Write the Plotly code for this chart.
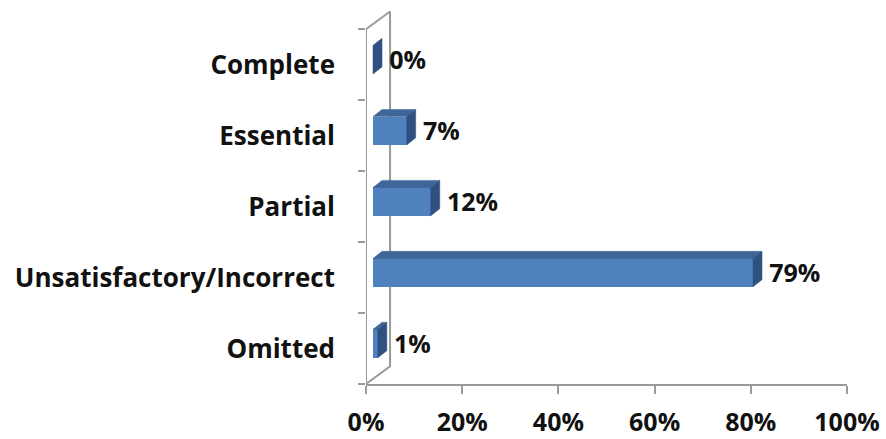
import plotly.graph_objects as go

# Response categories (bottom to top) and their shares in percent
categories = ["Omitted", "Unsatisfactory/Incorrect", "Partial", "Essential", "Complete"]
shares = [1, 79, 12, 7, 0]
x_ticks = [0, 20, 40, 60, 80, 100]

# Pseudo-3D geometry, in axis units
Y_RANGE = [-0.5, 4.8]
WALL_DX, WALL_DY = 5.0, 0.25      # depth of the side wall
FRONT_DX, FRONT_DY = 1.46, 0.07   # bars sit slightly behind the front plane
BAR_DX, BAR_DY = 1.87, 0.10       # bar depth
BAR_H = 0.40                      # bar thickness
LABEL_GAP = 1.5
LABEL_DY = 0.03

FRONT = "#4F81BD"
TOP = "#3E6698"
SIDE = "#2F5080"
GRID = "#9A9A9A"
TEXT = "#111111"
FONT = "Open Sans"

fig = go.Figure()

# Side wall (drawn first so the bars sit in front of it)
n = len(categories)
lo, hi = -0.5, n - 0.5
wall_x = [0, 0, None, 0, WALL_DX, WALL_DX, 0, None]
wall_y = [lo, hi, None, hi, hi + WALL_DY, lo + WALL_DY, lo, None]
fig.add_trace(go.Scatter(x=wall_x, y=wall_y, mode="lines",
                         line=dict(color=GRID, width=2), hoverinfo="skip",
                         showlegend=False, xaxis="x", yaxis="y"))

# Front faces of the bars on the category axis
fig.add_trace(go.Bar(y=categories, x=shares, base=FRONT_DX, orientation="h",
                     width=BAR_H, offset=-BAR_H / 2 + FRONT_DY,
                     marker=dict(color=FRONT, line=dict(width=0)),
                     showlegend=False, xaxis="x", yaxis="y2"))

# Top and side faces
for i, v in enumerate(shares):
    x0 = FRONT_DX
    x1 = FRONT_DX + v
    yb = i + FRONT_DY - BAR_H / 2
    yt = i + FRONT_DY + BAR_H / 2
    fig.add_trace(go.Scatter(
        x=[x0, x1, x1 + BAR_DX, x0 + BAR_DX, x0],
        y=[yt, yt, yt + BAR_DY, yt + BAR_DY, yt],
        fill="toself", fillcolor=TOP, mode="lines", line=dict(width=0.5, color=TOP),
        hoverinfo="skip", showlegend=False, xaxis="x", yaxis="y3"))
    fig.add_trace(go.Scatter(
        x=[x1, x1 + BAR_DX, x1 + BAR_DX, x1, x1],
        y=[yb, yb + BAR_DY, yt + BAR_DY, yt, yb],
        fill="toself", fillcolor=SIDE, mode="lines", line=dict(width=0.5, color=SIDE),
        hoverinfo="skip", showlegend=False, xaxis="x", yaxis="y3"))

# Value labels to the right of each bar
fig.add_trace(go.Scatter(
    x=[FRONT_DX + v + BAR_DX + LABEL_GAP for v in shares],
    y=[i + LABEL_DY for i in range(n)],
    text=[f"{v}%" for v in shares], mode="text", textposition="middle right",
    textfont=dict(family=FONT, size=25, color=TEXT, weight="bold"),
    hoverinfo="skip", showlegend=False, xaxis="x", yaxis="y3"))

fig.update_layout(
    width=886, height=439,
    margin=dict(l=366, r=39, t=8, b=55, autoexpand=False),
    paper_bgcolor="white", plot_bgcolor="white",
    bargap=0,
    xaxis=dict(range=[0, 100], tickvals=x_ticks, ticktext=[f"{t}%" for t in x_ticks],
               automargin=False,
               showgrid=False, zeroline=False, showline=True, linecolor=GRID, linewidth=2,
               ticks="outside", ticklen=8, tickwidth=2, tickcolor=GRID,
               ticklabelstandoff=7,
               tickfont=dict(family=FONT, size=25, color=TEXT, weight="bold")),
    yaxis=dict(range=Y_RANGE, visible=False, automargin=False),
    yaxis2=dict(type="category", categoryorder="array", categoryarray=categories,
                range=Y_RANGE, overlaying="y", side="left", anchor="x",
                automargin=False,
                showgrid=False, zeroline=False, showline=False,
                tickson="boundaries", ticks="outside", ticklen=7, tickwidth=2,
                tickcolor=GRID, ticklabelstandoff=30,
                tickfont=dict(family=FONT, size=26, color=TEXT, weight="bold")),
    yaxis3=dict(range=Y_RANGE, overlaying="y", visible=False, automargin=False),
)

fig.write_html("out.html")
